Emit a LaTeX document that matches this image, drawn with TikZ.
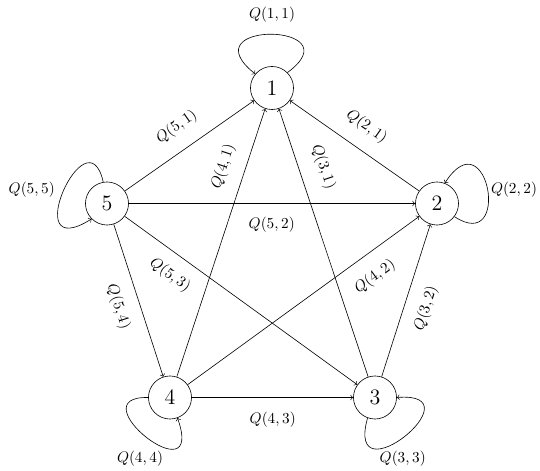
\documentclass[tikz,border=0pt]{standalone}
\begin{document}
\begin{tikzpicture}[x=0.655pt,y=0.655pt,
  state/.style={circle,draw,minimum size=28.2pt,inner sep=0pt,font=\Large},
  edge/.style={->,line width=0.4pt},
  lab/.style={inner sep=1pt}]
\useasboundingbox (0,0) rectangle (540,471);
\node[state] (n1) at (272,383) {1};
\node[state] (n2) at (437,267.5) {2};
\node[state] (n3) at (375,73.5) {3};
\node[state] (n4) at (170,73.5) {4};
\node[state] (n5) at (107,267.5) {5};
% straight edges
\draw[edge] (n5) -- (n1);
\draw[edge] (n4) -- (n1);
\draw[edge] (n3) -- (n1);
\draw[edge] (n2) -- (n1);
\draw[edge] (n5) -- (n2);
\draw[edge] (n4) -- (n2);
\draw[edge] (n3) -- (n2);
\draw[edge] (n5) -- (n3);
\draw[edge] (n4) -- (n3);
\draw[edge] (n5) -- (n4);
% loops
\draw[edge] (n1.45) .. controls +(68,50) and +(-68,54) .. (n1.140);
\draw[edge] (n2.-37) .. controls +(58,-38) and +(43,67) .. (n2.69);
\draw[edge] (n5.100) .. controls +(-16,72) and +(-75,-47) .. (n5.225);
\draw[edge] (n4.180) .. controls +(-72,1.5) and +(29,-81) .. (n4.-70);
\draw[edge] (n3.-110) .. controls +(-23,-83) and +(83,6.5) .. (n3.0);
% loop labels
\node[lab] (l11) at (272,456) {$Q(1,1)$};
\node[lab] (l22) at (514,281.7) {$Q(2,2)$};
\node[lab] (l55) at (31.7,281.7) {$Q(5,5)$};
\node[lab] (l44) at (140,12.7) {$Q(4,4)$};
\node[lab] (l33) at (402.7,12.7) {$Q(3,3)$};
% edge labels
\node[lab,rotate=35] (l51) at (176.7,344.3) {$Q(5,1)$};
\node[lab,rotate=71.6] (l41) at (223.3,304.3) {$Q(4,1)$};
\node[lab,rotate=-71.6] (l31) at (323.3,304.3) {$Q(3,1)$};
\node[lab,rotate=-35] (l21) at (366.7,344.3) {$Q(2,1)$};
\node[lab] (l52) at (271.7,246) {$Q(5,2)$};
\node[lab,rotate=-36] (l53) at (170,196) {$Q(5,3)$};
\node[lab,rotate=36] (l42) at (375,194.3) {$Q(4,2)$};
\node[lab,rotate=72.3] (l32) at (426,162.7) {$Q(3,2)$};
\node[lab,rotate=-72.3] (l54) at (118.3,164.3) {$Q(5,4)$};
\node[lab] (l43) at (272.7,51.7) {$Q(4,3)$};
\end{tikzpicture}
\end{document}
